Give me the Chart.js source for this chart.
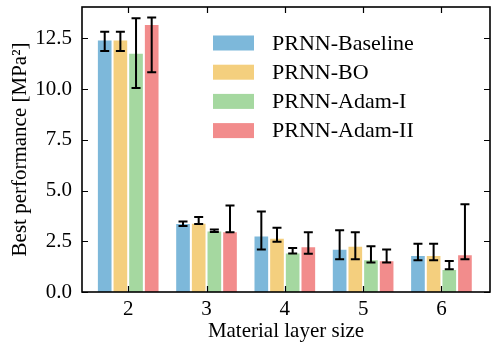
<!DOCTYPE html>
<html>
<head>
<meta charset="utf-8">
<script src="https://cdn.jsdelivr.net/npm/chart.js@4.4.1/dist/chart.umd.min.js"></script>
<style>
  html, body { margin: 0; padding: 0; background: #fff; }
  #chart { display: block; }
</style>
</head>
<body>
<canvas id="chart" width="497" height="352"></canvas>
<script>
// layer sizes on the x axis
var layerSizes = [2, 3, 4, 5, 6];
var xTicks = [2, 3, 4, 5, 6];
var yTicks = [0, 2.5, 5, 7.5, 10, 12.5];

var seriesNames = ['PRNN-Baseline', 'PRNN-BO', 'PRNN-Adam-I', 'PRNN-Adam-II'];
var seriesColors = ['#7db8da', '#f4cf7e', '#a5d8a0', '#f28c8c'];

// bar heights
var baseline = [12.45, 3.40, 2.79, 2.13, 1.82];
var bo       = [12.45, 3.42, 2.68, 2.28, 1.82];
var adamI    = [11.80, 3.03, 1.95, 1.61, 1.13];
var adamII   = [13.21, 3.00, 2.25, 1.57, 1.86];

// error bar ends (lower / upper)
var baselineLo = [11.88, 3.25, 2.09, 1.61, 1.56];
var baselineHi = [12.83, 3.48, 3.97, 3.04, 2.38];
var boLo       = [11.88, 3.35, 2.48, 1.61, 1.56];
var boHi       = [12.83, 3.70, 3.17, 2.94, 2.38];
var adamILo    = [10.06, 2.96, 1.90, 1.46, 1.12];
var adamIHi    = [13.50, 3.08, 2.17, 2.25, 1.53];
var adamIILo   = [10.83, 2.94, 1.89, 1.45, 1.61];
var adamIIHi   = [13.53, 4.27, 2.94, 2.09, 4.32];

var values = [baseline, bo, adamI, adamII];
var lows = [baselineLo, boLo, adamILo, adamIILo];
var highs = [baselineHi, boHi, adamIHi, adamIIHi];

var serif = '"Liberation Serif", "Times New Roman", serif';

function toPoints(arr) {
    return arr.map(function (v, i) { return {x: layerSizes[i], y: v}; });
}

var datasets = seriesNames.map(function (name, k) {
    return {
        label: name,
        data: toPoints(values[k]),
        backgroundColor: seriesColors[k],
        borderColor: 'rgba(255,255,255,0.35)',
        borderWidth: 1,
        lo: lows[k],
        hi: highs[k]
    };
});

// error bars, frame, inward ticks and the legend box
var extras = {
    id: 'extras',
    afterDatasetsDraw: function (chart) {
        var ctx = chart.ctx;
        var y = chart.scales.y;
        ctx.save();
        ctx.strokeStyle = '#000';
        ctx.lineWidth = 2;
        chart.data.datasets.forEach(function (ds, k) {
            var meta = chart.getDatasetMeta(k);
            meta.data.forEach(function (bar, i) {
                var top = y.getPixelForValue(ds.hi[i]);
                var bot = y.getPixelForValue(ds.lo[i]);
                ctx.beginPath();
                ctx.moveTo(bar.x, top);
                ctx.lineTo(bar.x, bot);
                ctx.moveTo(bar.x - 4.5, top);
                ctx.lineTo(bar.x + 4.5, top);
                ctx.moveTo(bar.x - 4.5, bot);
                ctx.lineTo(bar.x + 4.5, bot);
                ctx.stroke();
            });
        });
        ctx.restore();
    },
    afterDraw: function (chart) {
        var ctx = chart.ctx;
        var a = chart.chartArea;
        var x = chart.scales.x, y = chart.scales.y;
        ctx.save();
        ctx.strokeStyle = '#000';
        ctx.lineWidth = 1.2;
        var tl = 6;
        xTicks.forEach(function (v) {
            var px = Math.round(x.getPixelForValue(v)) + 0.5;
            ctx.beginPath();
            ctx.moveTo(px, a.bottom); ctx.lineTo(px, a.bottom - tl);
            ctx.moveTo(px, a.top); ctx.lineTo(px, a.top + tl);
            ctx.stroke();
        });
        yTicks.forEach(function (v) {
            var py = Math.round(y.getPixelForValue(v)) + 0.5;
            ctx.beginPath();
            ctx.moveTo(a.left, py); ctx.lineTo(a.left + tl, py);
            ctx.moveTo(a.right, py); ctx.lineTo(a.right - tl, py);
            ctx.stroke();
        });
        ctx.lineWidth = 1.6;
        ctx.strokeRect(a.left, a.top, a.right - a.left, a.bottom - a.top);

        // legend
        ctx.font = '22px ' + serif;
        ctx.textBaseline = 'middle';
        ctx.textAlign = 'left';
        ctx.fillStyle = '#000';
        var lx = a.left + 131, ly = a.top + 36;
        chart.data.datasets.forEach(function (ds, k) {
            var cy = ly + k * 29.2;
            ctx.fillStyle = ds.backgroundColor;
            ctx.fillRect(lx, cy - 7.5, 41, 15);
            ctx.fillStyle = '#000';
            ctx.fillText(ds.label, lx + 59, cy + 1);
        });
        ctx.restore();
    }
};

new Chart(document.getElementById('chart'), {
    type: 'bar',
    data: { datasets: datasets },
    options: {
        responsive: false,
        animation: false,
        devicePixelRatio: 1,
        layout: { padding: { top: 7, right: 7, left: 0, bottom: 0 } },
        datasets: { bar: { categoryPercentage: 0.8, barPercentage: 1.0 } },
        plugins: {
            legend: { display: false },
            tooltip: { enabled: false }
        },
        scales: {
            x: {
                type: 'linear',
                min: 1.41,
                max: 6.62,
                offset: false,
                grid: { display: false, drawTicks: false, offset: false },
                border: { display: false },
                afterBuildTicks: function (scale) {
                    scale.ticks = xTicks.map(function (v) { return {value: v}; });
                },
                afterFit: function (scale) {
                    scale.height = 60;
                    scale.paddingLeft = 0;
                    scale.paddingRight = 0;
                },
                ticks: {
                    color: '#000',
                    padding: 5,
                    font: { family: serif, size: 21 },
                    callback: function (v) { return String(v); }
                },
                title: {
                    display: true,
                    text: 'Material layer size',
                    color: '#000',
                    font: { family: serif, size: 21 },
                    padding: { top: 0, bottom: 8 }
                }
            },
            y: {
                min: 0,
                max: 14.05,
                grid: { display: false, drawTicks: false },
                border: { display: false },
                afterBuildTicks: function (scale) {
                    scale.ticks = yTicks.map(function (v) { return {value: v}; });
                },
                afterFit: function (scale) {
                    scale.width = 82;
                    scale.paddingTop = 0;
                    scale.paddingBottom = 0;
                },
                ticks: {
                    color: '#000',
                    padding: 10,
                    font: { family: serif, size: 21 },
                    callback: function (v) { return v.toFixed(1); }
                },
                title: {
                    display: true,
                    text: 'Best performance [MPa²]',
                    color: '#000',
                    font: { family: serif, size: 21 },
                    padding: { top: 8, bottom: 0 }
                }
            }
        }
    },
    plugins: [extras]
});
</script>
</body>
</html>
